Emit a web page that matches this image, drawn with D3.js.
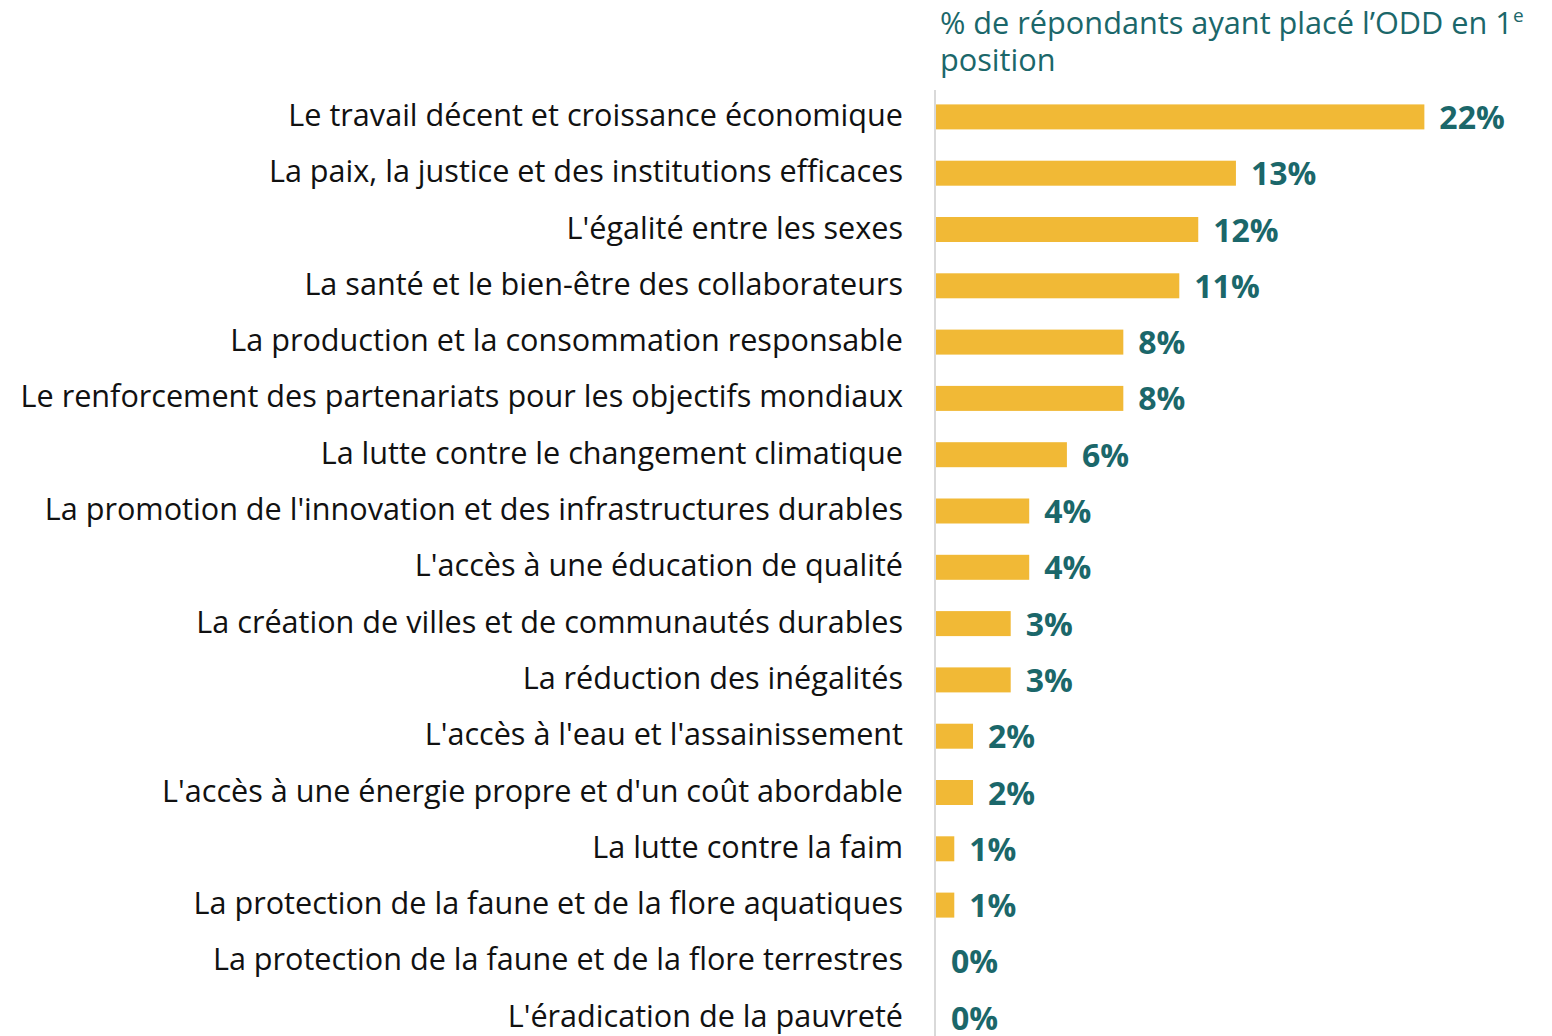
<!DOCTYPE html>
<html>
<head>
<meta charset="utf-8">
<script src="https://cdn.jsdelivr.net/npm/d3@7"></script>
<style>
  html, body { margin: 0; padding: 0; background: #fff; }
  text { font-family: "Open Sans", sans-serif; }
</style>
</head>
<body>
<div id="chart"></div>
<script>
(function(){
const categories = [
  "Le travail décent et croissance économique",
  "La paix, la justice et des institutions efficaces",
  "L'égalité entre les sexes",
  "La santé et le bien-être des collaborateurs",
  "La production et la consommation responsable",
  "Le renforcement des partenariats pour les objectifs mondiaux",
  "La lutte contre le changement climatique",
  "La promotion de l'innovation et des infrastructures durables",
  "L'accès à une éducation de qualité",
  "La création de villes et de communautés durables",
  "La réduction des inégalités",
  "L'accès à l'eau et l'assainissement",
  "L'accès à une énergie propre et d'un coût abordable",
  "La lutte contre la faim",
  "La protection de la faune et de la flore aquatiques",
  "La protection de la faune et de la flore terrestres",
  "L'éradication de la pauvreté"
];
// share of respondents (%)
const values = [21.9, 13.45, 11.76, 10.91, 8.4, 8.4, 5.87, 4.18, 4.18, 3.35, 3.35, 1.66, 1.66, 0.82, 0.82, 0, 0];
const titleLines = ["% de répondants ayant placé l’ODD en 1", "position"];

const width = 1552;
const height = 1036;
const teal = "#1b676a";
const gold = "#f1b936";

const svg = d3.select("#chart")
  .append("svg")
  .attr("width", width)
  .attr("height", height);

const data = categories.map((c, i) => ({ category: c, value: values[i] }));

const x = d3.scaleLinear()
  .domain([0, 22])
  .range([936, 936 + 22 * 22.3]);

const y = d3.scaleBand()
  .domain(categories)
  .range([88.75, 1045.85])
  .paddingInner(0.556)
  .paddingOuter(0.278);

// title
const title = svg.append("text")
  .attr("x", 940)
  .attr("y", 34)
  .attr("fill", teal)
  .style("font-size", "30.7px");
title.append("tspan").text(titleLines[0]);
title.append("tspan")
  .attr("dy", -12)
  .style("font-size", "19px")
  .text("e");
svg.append("text")
  .attr("x", 940)
  .attr("y", 71)
  .attr("fill", teal)
  .style("font-size", "30.7px")
  .text(titleLines[1]);

// bars
svg.selectAll(".bar")
  .data(data)
  .enter().append("rect")
  .attr("class", "bar")
  .attr("x", x(0))
  .attr("y", d => y(d.category))
  .attr("width", d => x(d.value) - x(0))
  .attr("height", y.bandwidth())
  .attr("fill", gold);

// vertical axis line
svg.append("line")
  .attr("x1", 935)
  .attr("x2", 935)
  .attr("y1", 90)
  .attr("y2", height)
  .attr("stroke", "#d9d9d9")
  .attr("stroke-width", 2);

// category labels
svg.selectAll(".cat-label")
  .data(data)
  .enter().append("text")
  .attr("class", "cat-label")
  .attr("x", 903)
  .attr("y", d => y(d.category) + y.bandwidth() / 2 + 9)
  .attr("text-anchor", "end")
  .attr("fill", "#111")
  .style("font-size", "30.6px")
  .text(d => d.category);

// value labels
svg.selectAll(".val-label")
  .data(data)
  .enter().append("text")
  .attr("class", "val-label")
  .attr("x", d => x(d.value) + 15)
  .attr("y", d => y(d.category) + y.bandwidth() / 2 + 12)
  .attr("fill", teal)
  .style("font-size", "32px")
  .style("font-weight", "bold")
  .text(d => Math.round(d.value) + "%");
})();
</script>
</body>
</html>
